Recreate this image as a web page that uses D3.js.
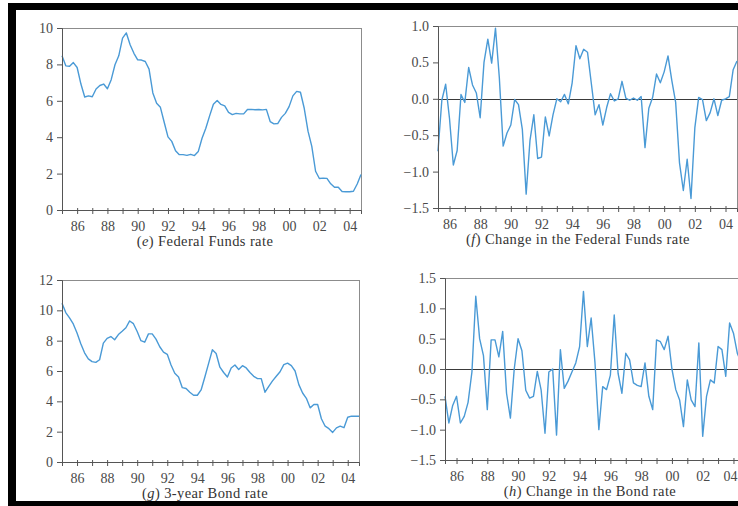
<!DOCTYPE html>
<html>
<head>
<meta charset="utf-8">
<script src="https://cdn.jsdelivr.net/npm/d3@7"></script>
<style>
body { margin: 0; background: #fff; }
svg { display: block; }
.axis text { font-family: "Liberation Serif", serif; font-size: 14px; fill: #4a4a4a; }
.axis path, .axis line { stroke: #555; }
.frame { fill: none; stroke: #8c8c8c; }
.serie { fill: none; stroke: #4a9ad6; stroke-width: 1.4; stroke-linejoin: round; }
.zero { stroke: #3a3a3a; }
.caption { font-family: "Liberation Serif", serif; font-size: 14.5px; fill: #333; letter-spacing: 0.4px; }
</style>
</head>
<body>
<div id="chart"></div>
<script>
// quarterly, 1985Q1 - 2004Q4
var ffr = [8.48, 7.92, 7.90, 8.10, 7.83, 6.92, 6.21, 6.27, 6.22, 6.65, 6.84, 6.92,
    6.66, 7.16, 7.98, 8.47, 9.44, 9.73, 9.08, 8.61, 8.25, 8.24, 8.16, 7.74,
    6.43, 5.86, 5.64, 4.82, 4.02, 3.77, 3.26, 3.04, 3.04, 3.00, 3.06, 2.99,
    3.21, 3.94, 4.49, 5.17, 5.81, 6.02, 5.80, 5.72, 5.36, 5.24, 5.31, 5.28,
    5.28, 5.52, 5.53, 5.51, 5.52, 5.50, 5.53, 4.86, 4.73, 4.75, 5.09, 5.31,
    5.68, 6.27, 6.52, 6.47, 5.59, 4.33, 3.50, 2.13, 1.73, 1.75, 1.74, 1.44,
    1.25, 1.25, 1.02, 1.00, 1.00, 1.03, 1.43, 1.95];

// quarterly, 1985Q2 - 2004Q4
var ffrChange = [-0.72, -0.02, 0.20, -0.27, -0.91, -0.71, 0.06, -0.05, 0.43, 0.19, 0.08,
    -0.26, 0.50, 0.82, 0.49, 0.97, 0.29, -0.65, -0.47, -0.36, -0.01, -0.08, -0.42,
    -1.31, -0.57, -0.22, -0.82, -0.80, -0.25, -0.51, -0.22, 0.00, -0.04, 0.06, -0.07,
    0.22, 0.73, 0.55, 0.68, 0.64, 0.21, -0.22, -0.08, -0.36, -0.12, 0.07, -0.03,
    0.00, 0.24, 0.01, -0.02, 0.01, -0.02, 0.03, -0.67, -0.13, 0.02, 0.34, 0.22,
    0.37, 0.59, 0.25, -0.05, -0.88, -1.26, -0.83, -1.37, -0.40, 0.02, -0.01, -0.30,
    -0.19, 0.00, -0.23, -0.02, 0.00, 0.03, 0.40, 0.52];

var bond = [10.47, 9.85, 9.5, 9.1, 8.5, 7.8, 7.2, 6.8, 6.62, 6.57, 6.74, 7.84,
    8.15, 8.27, 8.06, 8.4, 8.62, 8.85, 9.3, 9.12, 8.6, 8.0, 7.9, 8.45,
    8.45, 8.1, 7.6, 7.25, 7.1, 6.4, 5.85, 5.6, 4.9, 4.85, 4.6, 4.4,
    4.4, 4.75, 5.6, 6.5, 7.4, 7.15, 6.25, 5.9, 5.6, 6.2, 6.4, 6.1,
    6.35, 6.2, 5.9, 5.65, 5.5, 5.5, 4.6, 4.99, 5.35, 5.65, 5.95, 6.42,
    6.52, 6.35, 6.0, 5.1, 4.55, 4.2, 3.57, 3.79, 3.79, 2.85, 2.36, 2.2,
    1.95, 2.25, 2.36, 2.26, 2.95, 3.02, 3.02, 3.02];

var bondChange = [-0.45, -0.89, -0.6, -0.45, -0.89, -0.78, -0.55, -0.05, 1.2, 0.5,
    0.22, -0.67, 0.48, 0.48, 0.2, 0.62, -0.4, -0.81, 0.0, 0.5,
    0.3, -0.35, -0.48, -0.45, -0.04, -0.35, -1.06, -0.05, 0.0, -1.09,
    0.32, -0.32, -0.2, -0.05, 0.1, 0.37, 1.28, 0.37, 0.84, 0.1,
    -1.0, -0.29, -0.34, -0.1, 0.89, -0.07, -0.4, 0.26, 0.15, -0.23,
    -0.27, -0.29, 0.1, -0.45, -0.67, 0.48, 0.45, 0.32, 0.54, 0.0,
    -0.34, -0.51, -0.95, -0.18, -0.51, -0.62, 0.43, -1.11, -0.45, -0.18,
    -0.23, 0.37, 0.32, -0.12, 0.76, 0.59, 0.26, 0.1, 0.3];

var years = [1986, 1987, 1988, 1989, 1990, 1991, 1992, 1993, 1994, 1995,
    1996, 1997, 1998, 1999, 2000, 2001, 2002, 2003, 2004];
var levelTicks10 = [0, 2, 4, 6, 8, 10];
var levelTicks12 = [0, 2, 4, 6, 8, 10, 12];
var changeTicksF = [-1.5, -1.0, -0.5, 0.0, 0.5, 1.0];
var changeTicksH = [-1.5, -1.0, -0.5, 0.0, 0.5, 1.0, 1.5];

var panels = [
    {values: ffr, start: 1985, y: [0, 10], ticks: levelTicks10, fmt: d3.format("d"), zero: false,
     left: 62, top: 28, right: 361, bottom: 210, cx: 205, letter: "e", caption: " Federal Funds rate"},
    {values: ffrChange, start: 1985.25, y: [-1.5, 1.0], ticks: changeTicksF, fmt: d3.format(".1f"), zero: true,
     left: 438, top: 26, right: 737, bottom: 208, cx: 578, letter: "f", caption: " Change in the Federal Funds rate"},
    {values: bond, start: 1985, y: [0, 12], ticks: levelTicks12, fmt: d3.format("d"), zero: false,
     left: 62, top: 280, right: 359, bottom: 462, cx: 205, letter: "g", caption: " 3-year Bond rate"},
    {values: bondChange, start: 1985.25, y: [-1.5, 1.5], ticks: changeTicksH, fmt: d3.format(".1f"), zero: true,
     left: 445, top: 278, right: 745, bottom: 460, cx: 590, letter: "h", caption: " Change in the Bond rate"}
];

var width = 738, height = 506;

var svg = d3.select("#chart").append("svg")
    .attr("width", width)
    .attr("height", height);

svg.append("rect").attr("width", width).attr("height", height).attr("fill", "#fff");

panels.forEach(function (p) {
    var w = p.right - p.left,
        h = p.bottom - p.top;

    var x = d3.scaleLinear().domain([p.start, 2004.75]).range([0, w]);
    var y = d3.scaleLinear().domain(p.y).range([h, 0]);

    var g = svg.append("g").attr("transform", "translate(" + p.left + "," + p.top + ")");

    g.append("rect")
        .attr("class", "frame")
        .attr("x", 0.5).attr("y", 0.5)
        .attr("width", w).attr("height", h);

    if (p.zero) {
        g.append("line")
            .attr("class", "zero")
            .attr("x1", 0).attr("x2", w)
            .attr("y1", Math.round(y(0)) + 0.5).attr("y2", Math.round(y(0)) + 0.5);
    }

    var line = d3.line()
        .x(function (d, i) { return x(p.start + i * 0.25); })
        .y(function (d) { return y(d); });

    g.append("path")
        .datum(p.values)
        .attr("class", "serie")
        .attr("d", line);

    // AXIS
    g.append("g")
        .attr("class", "y axis")
        .call(d3.axisLeft(y).tickValues(p.ticks).tickFormat(p.fmt).tickSizeOuter(0).tickSize(5).tickPadding(4));

    var xaxis = g.append("g")
        .attr("class", "x axis")
        .attr("transform", "translate(0," + h + ")")
        .call(d3.axisBottom(x).tickValues(years).tickSizeOuter(0).tickSize(4).tickPadding(7)
            .tickFormat(function (d) { return d % 2 === 0 ? d3.format("02d")(d % 100) : ""; }));
    xaxis.selectAll(".tick line").attr("y1", -2);

    // keep a label that would run past the window inside it
    xaxis.selectAll(".tick").each(function (d) {
        if (p.left + x(d) + 8 > width) {
            d3.select(this).select("text").attr("text-anchor", "end").attr("x", width - p.left - x(d) - 1);
        }
    });

    var cap = svg.append("text")
        .attr("class", "caption")
        .attr("x", p.cx)
        .attr("y", p.bottom + 36)
        .attr("text-anchor", "middle");
    cap.append("tspan").text("(");
    cap.append("tspan").style("font-style", "italic").text(p.letter);
    cap.append("tspan").text(")" + p.caption);
});

// black scan border
svg.append("rect").attr("x", 8).attr("y", 3).attr("width", width - 8).attr("height", 7).attr("fill", "#000");
svg.append("rect").attr("x", 8).attr("y", 3).attr("width", 8).attr("height", height - 3).attr("fill", "#000");
svg.append("rect").attr("x", 8).attr("y", 501).attr("width", width - 8).attr("height", 5).attr("fill", "#000");
</script>
</body>
</html>
